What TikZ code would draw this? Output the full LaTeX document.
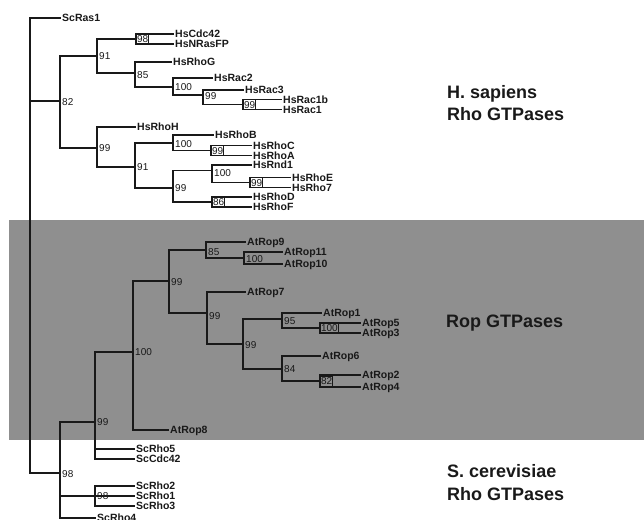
\documentclass[tikz,border=0pt]{standalone}
\usepackage{fontspec}
\setmainfont{Liberation Sans}
\definecolor{band}{RGB}{143,143,143}
\definecolor{ink}{RGB}{25,25,25}
\begin{document}
\begin{tikzpicture}[x=1pt,y=-1pt,
  br/.style={line width=1.5pt, draw=ink},
  leaf/.style={anchor=west, font=\fontsize{10.5}{10.5}\selectfont\bfseries, text=ink, inner xsep=1.5pt, inner ysep=0pt, text height=7.5pt, text depth=0pt},
  bs/.style={anchor=west, font=\fontsize{10}{10}\selectfont, text=ink, inner xsep=1pt, inner ysep=0pt, text height=7.2pt, text depth=0pt},
  bsbox/.style={bs, draw=ink, line width=1pt, inner xsep=0.6pt, minimum height=10pt},
  grp/.style={anchor=base west, font=\fontsize{18}{18}\selectfont\bfseries, text=ink, inner sep=0pt},
]
\useasboundingbox (0,0) rectangle (644,519);
\fill[band] (9,220) rectangle (644,440);

% ---------- internal nodes ----------
\coordinate (R)    at (30,101);
\coordinate (N82)  at (60,101);
\coordinate (N91)  at (97,56);
\coordinate (N98a) at (136,39);
\coordinate (N85)  at (135,73);
\coordinate (N100a) at (173,87);
\coordinate (N99b) at (203,95);
\coordinate (N99c) at (243,104.5);
\coordinate (N99a) at (97,148);
\coordinate (N91b) at (135,167);
\coordinate (N100b) at (173,143);
\coordinate (N99e) at (211,150.5);
\coordinate (N99d) at (173,188);
\coordinate (N100c) at (212,170.5);
\coordinate (N99f) at (250,182.5);
\coordinate (N86)  at (212,202);
\coordinate (N98s) at (60,473);
\coordinate (N99s) at (95,422);
\coordinate (N98t) at (95,496);
\coordinate (N100r) at (133,352);
\coordinate (N99r) at (169,281);
\coordinate (N85r) at (206,250);
\coordinate (N100s) at (244,258);
\coordinate (N99r2) at (207,313);
\coordinate (N99r3) at (243,344);
\coordinate (N95)  at (282,319);
\coordinate (N100t) at (320,328);
\coordinate (N84)  at (282,369);
\coordinate (N82r) at (320,381);

% ---------- leaves ----------
\node[leaf] (ScRas1)   at (60.5,18)  {ScRas1};
\node[leaf] (HsCdc42)  at (173.5,34) {HsCdc42};
\node[leaf] (HsNRasFP) at (173.5,44) {HsNRasFP};
\node[leaf] (HsRhoG)   at (171.5,62) {HsRhoG};
\node[leaf] (HsRac2)   at (212.5,78) {HsRac2};
\node[leaf] (HsRac3)   at (243.5,90) {HsRac3};
\node[leaf] (HsRac1b)  at (281.5,99.5) {HsRac1b};
\node[leaf] (HsRac1)   at (281.5,109.5) {HsRac1};
\node[leaf] (HsRhoH)   at (135.5,127) {HsRhoH};
\node[leaf] (HsRhoB)   at (213.5,135) {HsRhoB};
\node[leaf] (HsRhoC)   at (251.5,145.5) {HsRhoC};
\node[leaf] (HsRhoA)   at (251.5,155.5) {HsRhoA};
\node[leaf] (HsRnd1)   at (251.5,165) {HsRnd1};
\node[leaf] (HsRhoE)   at (290.5,177.5) {HsRhoE};
\node[leaf] (HsRho7)   at (290.5,187.5) {HsRho7};
\node[leaf] (HsRhoD)   at (251.5,197) {HsRhoD};
\node[leaf] (HsRhoF)   at (251.5,207) {HsRhoF};
\node[leaf] (AtRop9)   at (245.5,242) {AtRop9};
\node[leaf] (AtRop11)  at (282.5,252) {AtRop11};
\node[leaf] (AtRop10)  at (282.5,264) {AtRop10};
\node[leaf] (AtRop7)   at (245.5,292) {AtRop7};
\node[leaf] (AtRop1)   at (321.5,313) {AtRop1};
\node[leaf] (AtRop5)   at (360.5,323) {AtRop5};
\node[leaf] (AtRop3)   at (360.5,333) {AtRop3};
\node[leaf] (AtRop6)   at (320.5,356) {AtRop6};
\node[leaf] (AtRop2)   at (360.5,375) {AtRop2};
\node[leaf] (AtRop4)   at (360.5,387) {AtRop4};
\node[leaf] (AtRop8)   at (168.5,430) {AtRop8};
\node[leaf] (ScRho5)   at (134.5,449) {ScRho5};
\node[leaf] (ScCdc42)  at (134.5,459) {ScCdc42};
\node[leaf] (ScRho2)   at (134.5,486) {ScRho2};
\node[leaf] (ScRho1)   at (134.5,496) {ScRho1};
\node[leaf] (ScRho3)   at (134.5,506) {ScRho3};
\node[leaf] (ScRho4)   at (95.5,518) {ScRho4};

% ---------- branches ----------
\draw[br] (R) |- (ScRas1.west);
\draw[br] (R) -- (N82);
\draw[br] (R) |- (N98s);

\draw[br] (N82) |- (N91);
\draw[br] (N82) |- (N99a);
\draw[br] (N91) |- (N98a);
\draw[br] (N91) |- (N85);
\draw[br] (N98a) |- (HsCdc42.west);
\draw[br] (N98a) |- (HsNRasFP.west);
\draw[br] (N85) |- (HsRhoG.west);
\draw[br] (N85) |- (N100a);
\draw[br] (N100a) |- (HsRac2.west);
\draw[br] (N100a) |- (N99b);
\draw[br] (N99b) |- (HsRac3.west);
\draw[br] (N99b) |- (N99c);
\draw[br] (N99c) |- (HsRac1b.west);
\draw[br] (N99c) |- (HsRac1.west);

\draw[br] (N99a) |- (HsRhoH.west);
\draw[br] (N99a) |- (N91b);
\draw[br] (N91b) |- (N100b);
\draw[br] (N91b) |- (N99d);
\draw[br] (N100b) |- (HsRhoB.west);
\draw[br] (N100b) |- (N99e);
\draw[br] (N99e) |- (HsRhoC.west);
\draw[br] (N99e) |- (HsRhoA.west);
\draw[br] (N99d) |- (N100c);
\draw[br] (N99d) |- (N86);
\draw[br] (N100c) |- (HsRnd1.west);
\draw[br] (N100c) |- (N99f);
\draw[br] (N99f) |- (HsRhoE.west);
\draw[br] (N99f) |- (HsRho7.west);
\draw[br] (N86) |- (HsRhoD.west);
\draw[br] (N86) |- (HsRhoF.west);

\draw[br] (N98s) |- (N99s);
\draw[br] (N98s) |- (N98t);
\draw[br] (N98s) |- (ScRho4.west);
\draw[br] (N99s) |- (N100r);
\draw[br] (N99s) |- (ScRho5.west);
\draw[br] (N99s) |- (ScCdc42.west);
\draw[br] (N98t) |- (ScRho2.west);
\draw[br] (N98t) |- (ScRho1.west);
\draw[br] (N98t) |- (ScRho3.west);
\draw[br] (N100r) |- (N99r);
\draw[br] (N100r) |- (AtRop8.west);
\draw[br] (N99r) |- (N85r);
\draw[br] (N99r) |- (N99r2);
\draw[br] (N85r) |- (AtRop9.west);
\draw[br] (N85r) |- (N100s);
\draw[br] (N100s) |- (AtRop11.west);
\draw[br] (N100s) |- (AtRop10.west);
\draw[br] (N99r2) |- (AtRop7.west);
\draw[br] (N99r2) |- (N99r3);
\draw[br] (N99r3) |- (N95);
\draw[br] (N99r3) |- (N84);
\draw[br] (N95) |- (AtRop1.west);
\draw[br] (N95) |- (N100t);
\draw[br] (N100t) |- (AtRop5.west);
\draw[br] (N100t) |- (AtRop3.west);
\draw[br] (N84) |- (AtRop6.west);
\draw[br] (N84) |- (N82r);
\draw[br] (N82r) |- (AtRop2.west);
\draw[br] (N82r) |- (AtRop4.west);

% ---------- bootstrap values ----------
\node[bs] (b82)   at (61,102) {82};
\node[bs] (b91)   at (98,56) {91};
\node[bsbox] (b98a) at (136,39) {98};
\node[bs] (b85)   at (136,75) {85};
\node[bs] (b100a) at (174,87) {100};
\node[bs] (b99b)  at (204,96) {99};
\node[bsbox] (b99c) at (243,104.5) {99};
\node[bs] (b99a)  at (98,148) {99};
\node[bs] (b91b)  at (136,167) {91};
\node[bs] (b100b) at (174,144) {100};
\node[bsbox] (b99e) at (211,150.5) {99};
\node[bs] (b99d)  at (174,188) {99};
\node[bs] (b100c) at (213,172.5) {100};
\node[bsbox] (b99f) at (250,182.5) {99};
\node[bsbox] (b86) at (212,202) {86};
\node[bs] (b98s)  at (61,474) {98};
\node[bs] (b99s)  at (96,422) {99};
\node[bs] (b98t)  at (96,496) {98};
\node[bs] (b100r) at (134,352) {100};
\node[bs] (b99r)  at (170,282) {99};
\node[bs] (b85r)  at (207,252) {85};
\node[bs] (b100s) at (245,259) {100};
\node[bs] (b99r2) at (208,316) {99};
\node[bs] (b99r3) at (244,345) {99};
\node[bs] (b95)   at (283,321) {95};
\node[bsbox] (b100t) at (320,328) {100};
\node[bs] (b84)   at (283,369) {84};
\node[bsbox] (b82r) at (320,381) {82};

% ---------- group labels ----------
\node[grp] (hs1) at (447,98) {H. sapiens};
\node[grp] (hs2) at (447,120) {Rho GTPases};
\node[grp] (rop) at (446,327) {Rop GTPases};
\node[grp] (sc1) at (447,477) {S. cerevisiae};
\node[grp] (sc2) at (447,500) {Rho GTPases};
\end{tikzpicture}
\end{document}
